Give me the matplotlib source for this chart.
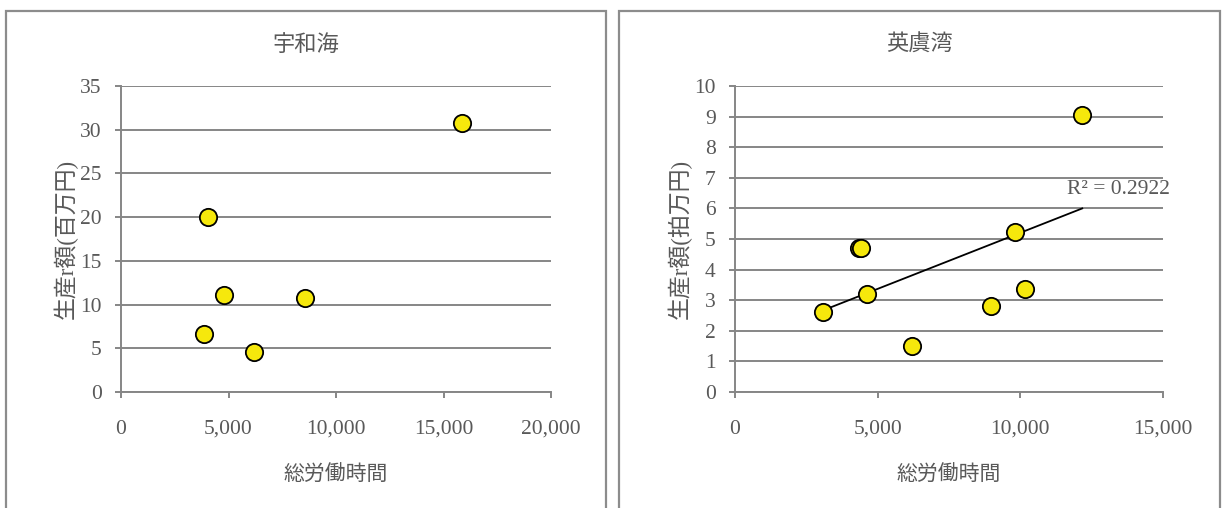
import numpy as np
import matplotlib
matplotlib.use("Agg")
import matplotlib.pyplot as plt
from matplotlib.patches import Rectangle
from matplotlib.ticker import StrMethodFormatter

# 宇和海
uwa_hours = [3850, 4050, 4800, 6200, 8550, 15850]
uwa_value = [6.6, 20.0, 11.1, 4.6, 10.7, 30.8]

# 英虞湾
ago_hours = [3100, 4330, 4400, 4620, 6220, 8980, 9810, 10150, 12170]
ago_value = [2.60, 4.72, 4.72, 3.20, 1.50, 2.81, 5.23, 3.38, 9.06]

titles = ["宇和海", "英虞湾"]
ylabels = ["生産r額(百万円)", "生産r額(拍万円)"]
xlabel = "総労働時間"
r2_label = "R² = 0.2922"

TXT = "#595959"
GRID = "#868686"
JP = ["Noto Sans CJK JP", "DejaVu Sans"]
NUM = ["Liberation Serif", "Noto Sans CJK JP"]

fig = plt.figure(figsize=(12.22, 5.08), dpi=100)
W, H = 1222, 508

# chart frames
for x0, x1 in [(6, 606), (619, 1220)]:
    fig.patches.append(Rectangle((x0 / W, -0.05), (x1 - x0) / W, (H - 11) / H + 0.05,
                                 transform=fig.transFigure, fill=False,
                                 edgecolor="#8c8c8c", lw=1.6))

ax1 = fig.add_axes([121 / W, (H - 392) / H, 430 / W, 306 / H])
ax2 = fig.add_axes([735 / W, (H - 392) / H, 428 / W, 306 / H])


def style(ax, xmax, ymax, ystep, ylab, title, cx):
    ax.set_xlim(0, xmax)
    ax.set_ylim(0, ymax)
    ax.set_xticks(np.arange(0, xmax + 1, 5000))
    ax.set_yticks(np.arange(0, ymax + 0.01, ystep))
    ax.xaxis.set_major_formatter(StrMethodFormatter("{x:,.0f}"))
    ax.yaxis.set_major_formatter(StrMethodFormatter("{x:.0f}"))
    ax.yaxis.grid(True, color=GRID, lw=1.4)
    ax.set_axisbelow(True)
    for s in ["top", "right"]:
        ax.spines[s].set_visible(False)
    for s in ["left", "bottom"]:
        ax.spines[s].set_color(GRID)
        ax.spines[s].set_linewidth(1.4)
    ax.tick_params(axis="y", direction="out", length=4, width=1.4, color=GRID,
                   pad=10, labelcolor=TXT)
    ax.tick_params(axis="x", direction="out", length=4, width=1.4, color=GRID,
                   pad=16, labelcolor=TXT)
    for lb in ax.get_xticklabels() + ax.get_yticklabels():
        lb.set_family(NUM)
        lb.set_fontsize(15.5)
    ax.set_xlabel(xlabel, family=JP, fontsize=15, color=TXT)
    ax.xaxis.set_label_coords(0.5, -0.235)
    ax.set_ylabel(ylab, family=NUM, fontsize=16.5, color=TXT)
    ax.yaxis.set_label_coords(-0.10, 0.5)
    fig.text(cx / W, 1 - 44 / H, title, family=JP, fontsize=16, color=TXT,
             ha="center", va="center")


style(ax1, 20000, 35, 5, ylabels[0], titles[0], 306)
style(ax2, 15000, 10, 1, ylabels[1], titles[1], 919.5)

mk = dict(s=155, c="#f6e80c", edgecolors="black", linewidths=1.3, zorder=3, clip_on=False)
ax1.scatter(uwa_hours, uwa_value, **mk)
ax2.scatter(ago_hours, ago_value, **mk)

# linear trend line for 英虞湾
k, b = np.polyfit(ago_hours, ago_value, 1)
xs = np.array([min(ago_hours), max(ago_hours)])
ax2.plot(xs, k * xs + b, color="black", lw=1.3, zorder=2)
ax2.text(11650, 6.62, r2_label, family=NUM, fontsize=15.5, color=TXT,
         ha="left", va="center")

fig.savefig("out.png", dpi=100, facecolor="white")
